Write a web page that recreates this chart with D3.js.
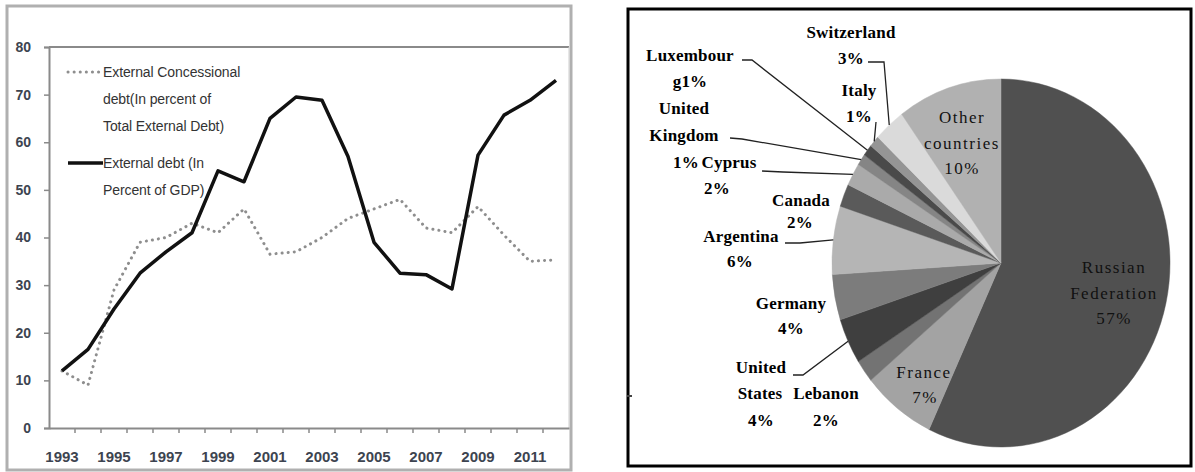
<!DOCTYPE html>
<html>
<head>
<meta charset="utf-8">
<script src="https://cdn.jsdelivr.net/npm/d3@7"></script>
<style>
body { margin: 0; background: #fff; }
svg { display: block; }
</style>
</head>
<body>
<svg width="1195" height="472"></svg>
<script>
// ---- data: line chart ----
var years = d3.range(1993, 2013).map(String);
var yearLabels = ["1993","1995","1997","1999","2001","2003","2005","2007","2009","2011"];
var concessional = [12, 9, 29, 39, 40, 43, 41, 46, 36.5, 37, 40, 44, 46, 48, 42, 41, 46.5, 40.5, 35, 35.3];
var externalDebt = [12, 16.5, 25, 32.5, 37, 41, 54, 51.7, 65, 69.5, 68.8, 57, 39, 32.5, 32.2, 29.2, 57.3, 65.7, 68.8, 73];
var yTicks = [0, 10, 20, 30, 40, 50, 60, 70, 80];

// ---- data: pie ----
var countries = ["Russian Federation", "France", "Lebanon", "United States", "Germany", "Argentina",
  "Canada", "Cyprus", "United Kingdom", "Luxembourg", "Italy", "Switzerland", "Other countries"];
var shares = [57, 7, 2, 4, 4, 6, 2, 2, 1, 1, 1, 3, 10];
var sliceColors = ["#505050", "#a3a3a3", "#737373", "#3f3f3f", "#7c7c7c", "#b5b5b5",
  "#5a5a5a", "#aaaaaa", "#858585", "#4a4a4a", "#959595", "#dadada", "#b1b1b1"];

var svg = d3.select("svg");

// ================= left: line chart =================
svg.append("rect").attr("x", 7).attr("y", 6).attr("width", 564).attr("height", 464)
  .attr("fill", "none").attr("stroke", "#b0b0b0").attr("stroke-width", 3);

var x = d3.scaleBand().domain(years).range([49, 569]);
var y = d3.scaleLinear().domain([0, 80]).range([428, 47]);

var left = svg.append("g");

// plot frame top/right
left.append("line").attr("x1", 49).attr("x2", 569).attr("y1", y(80)).attr("y2", y(80))
  .attr("stroke", "#8a8a8a").attr("stroke-width", 2);
left.append("line").attr("x1", 569).attr("x2", 569).attr("y1", y(80)).attr("y2", y(0))
  .attr("stroke", "#cfcfcf").attr("stroke-width", 1);

var yAxis = left.append("g").attr("transform", "translate(49,0)")
  .call(d3.axisLeft(y).tickValues(yTicks).tickSize(5).tickPadding(13));
yAxis.select(".domain").attr("stroke", "#8a8a8a").attr("stroke-width", 2);
yAxis.selectAll(".tick line").attr("stroke", "#8a8a8a").attr("stroke-width", 1.5);
yAxis.selectAll("text").attr("font-family", "Liberation Sans Narrow, Liberation Sans, sans-serif")
  .attr("font-size", 14).attr("font-weight", "bold").attr("fill", "#3d4450");

var xAxis = left.append("g").attr("transform", "translate(0,428)")
  .call(d3.axisBottom(x).tickValues(yearLabels).tickSize(0).tickPadding(23));
xAxis.select(".domain").attr("stroke", "#8a8a8a").attr("stroke-width", 2);
xAxis.selectAll("text").attr("font-family", "Liberation Sans Narrow, Liberation Sans, sans-serif")
  .attr("font-size", 15).attr("font-weight", "bold").attr("fill", "#3d4450");
// tick marks at band boundaries
left.append("g").selectAll("line").data(years.slice(1)).enter().append("line")
  .attr("x1", function(d) { return x(d); }).attr("x2", function(d) { return x(d); })
  .attr("y1", 428).attr("y2", 433).attr("stroke", "#8a8a8a").attr("stroke-width", 1.5);

var line = d3.line()
  .x(function(d, i) { return x(years[i]) + x.bandwidth() / 2; })
  .y(function(d) { return y(d); });

left.append("path").datum(concessional).attr("d", line).attr("fill", "none")
  .attr("stroke", "#8e8e8e").attr("stroke-width", 3).attr("stroke-linecap", "round")
  .attr("stroke-dasharray", "0.1,6");
left.append("path").datum(externalDebt).attr("d", line).attr("fill", "none")
  .attr("stroke", "#111").attr("stroke-width", 3.5).attr("stroke-linejoin", "round");

// legend
var lg = left.append("g").attr("font-family", "Liberation Sans Narrow, Liberation Sans, sans-serif")
  .attr("font-size", 14).attr("fill", "#333");
lg.append("line").attr("x1", 68).attr("x2", 101).attr("y1", 72).attr("y2", 72)
  .attr("stroke", "#8e8e8e").attr("stroke-width", 3).attr("stroke-linecap", "round").attr("stroke-dasharray", "0.1,6");
lg.append("line").attr("x1", 68).attr("x2", 103).attr("y1", 163).attr("y2", 163)
  .attr("stroke", "#111").attr("stroke-width", 3.5);
[["External Concessional", 72], ["debt(In percent of", 99], ["Total External Debt)", 126],
 ["External debt (In", 163], ["Percent of GDP)", 190]].forEach(function(t) {
  lg.append("text").attr("x", 103).attr("y", t[1]).attr("dy", "0.35em").attr("letter-spacing", -0.1).text(t[0]);
});

// ================= right: pie chart =================
svg.append("rect").attr("x", 628).attr("y", 9).attr("width", 563).attr("height", 457)
  .attr("fill", "none").attr("stroke", "#000").attr("stroke-width", 3);
svg.append("line").attr("x1", 627).attr("x2", 632).attr("y1", 396).attr("y2", 396)
  .attr("stroke", "#444").attr("stroke-width", 2);

var cx = 1001, cy = 263, rx = 169, ry = 184;
var pie = d3.pie().sort(null).value(function(d) { return d; });
var arcs = pie(shares);
var arc = d3.arc().innerRadius(0).outerRadius(ry);

svg.append("g").attr("transform", "translate(" + cx + "," + cy + ") scale(" + (rx / ry) + ",1)")
  .selectAll("path").data(arcs).enter().append("path")
  .attr("d", arc)
  .attr("fill", function(d, i) { return sliceColors[i]; })
  .attr("stroke", function(d, i) { return sliceColors[i]; }).attr("stroke-width", 0.5);

function edge(i) {
  var a = (arcs[i].startAngle + arcs[i].endAngle) / 2;
  return [cx + Math.sin(a) * rx, cy - Math.cos(a) * ry];
}

// leader lines: [slice index, points from label]
var leaders = [
  [11, [[868, 62], [884, 62]]],
  [10, [[876, 122]]],
  [9, [[742, 60], [752, 60]]],
  [8, [[730, 138], [742, 139]]],
  [7, [[762, 171], [783, 172]]],
  [5, [[785, 243], [800, 243]]],
  [3, [[793, 375], [803, 375]]]
];
leaders.forEach(function(l) {
  var pts = l[1].concat([edge(l[0])]);
  svg.append("path").attr("d", d3.line()(pts)).attr("fill", "none")
    .attr("stroke", "#222").attr("stroke-width", 1.3);
});

// labels: [text, x, y, bold]
var pieLabels = [
  ["Switzerland", 851, 32, 1], ["3%", 851, 58, 1],
  ["Italy", 859, 90, 1], ["1%", 859, 116, 1],
  ["Luxembour", 690, 55, 1], ["g1%", 690, 81, 1],
  ["United", 684, 108, 1], ["Kingdom", 684, 135, 1],
  ["1%", 686, 162, 1], ["Cyprus", 729, 162, 1], ["2%", 717, 188, 1],
  ["Canada", 801, 200, 1], ["2%", 800, 222, 1],
  ["Argentina", 741, 236, 1], ["6%", 740, 261, 1],
  ["Germany", 791, 303, 1], ["4%", 791, 328, 1],
  ["United", 761, 367, 1], ["States", 760, 393, 1], ["Lebanon", 826, 393, 1],
  ["4%", 761, 420, 1], ["2%", 826, 420, 1],
  ["Other", 962, 117, 0], ["countries", 962, 143, 0], ["10%", 962, 168, 0],
  ["Russian", 1114, 267, 0], ["Federation", 1114, 293, 0], ["57%", 1114, 318, 0],
  ["France", 924, 372, 0], ["7%", 925, 397, 0]
];
svg.append("g").selectAll("text").data(pieLabels).enter().append("text")
  .attr("x", function(d) { return d[1]; }).attr("y", function(d) { return d[2]; })
  .attr("dy", "0.35em").attr("text-anchor", "middle")
  .attr("font-family", "Liberation Serif, serif")
  .attr("font-size", 17)
  .attr("font-weight", function(d) { return d[3] ? "bold" : "normal"; })
  .attr("letter-spacing", function(d) { return d[3] ? 0.2 : 1.5; })
  .attr("fill", function(d) { return d[3] ? "#000" : "#111"; })
  .text(function(d) { return d[0]; });
</script>
</body>
</html>
